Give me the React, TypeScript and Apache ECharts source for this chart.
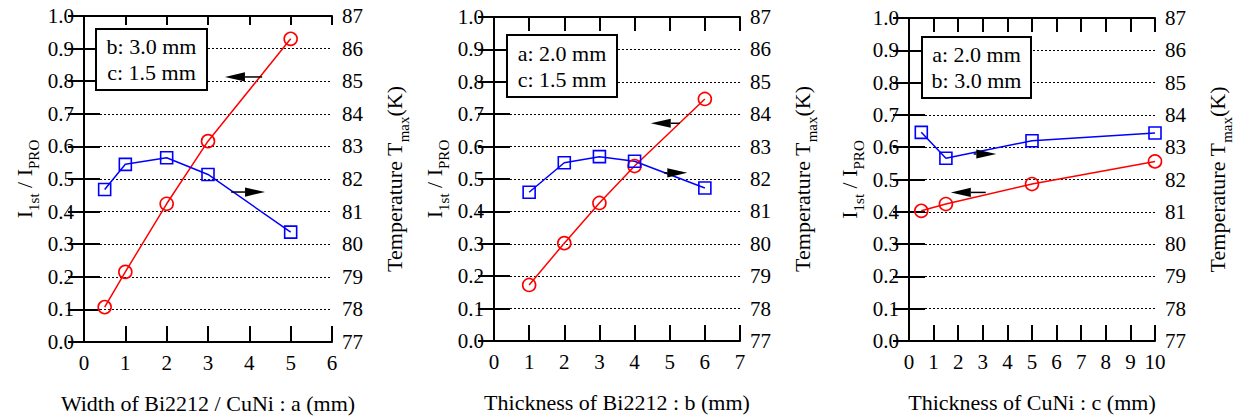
import React, { useEffect, useRef } from "react";
import * as echarts from "echarts";

// Panel 1: width a
const p1X = [0.5, 1, 2, 3, 5];
const p1I = [0.107, 0.215, 0.424, 0.616, 0.93];
const p1T = [81.68, 82.45, 82.65, 82.14, 80.37];
// Panel 2: thickness b
const p2X = [1, 2, 3, 4, 6];
const p2I = [0.173, 0.302, 0.426, 0.54, 0.747];
const p2T = [81.59, 82.5, 82.69, 82.55, 81.72];
// Panel 3: thickness c
const p3X = [0.5, 1.5, 5, 10];
const p3I = [0.403, 0.424, 0.486, 0.556];
const p3T = [83.46, 82.66, 83.2, 83.44];

const xMax = [6, 7, 10];
const yLeftTicks = { min: 0, max: 1, interval: 0.1 };
const yRightTicks = { min: 77, max: 87, interval: 1 };

const xTitles = [
  "Width of Bi2212 / CuNi : a (mm)",
  "Thickness of Bi2212 : b (mm)",
  "Thickness of CuNi : c (mm)",
];
const boxTexts = [
  "b: 3.0 mm\nc: 1.5 mm",
  "a: 2.0 mm\nc: 1.5 mm",
  "a: 2.0 mm\nb: 3.0 mm",
];
// arrows: [tailX, tailY, tipX, tipY] in left-axis units
const arrows1 = [
  [4.31, 0.813, 3.41, 0.813],
  [3.56, 0.46, 4.38, 0.46],
];
const arrows2 = [
  [5.29, 0.672, 4.46, 0.672],
  [4.84, 0.519, 5.5, 0.519],
];
const arrows3 = [
  [2.63, 0.579, 3.55, 0.579],
  [3.12, 0.46, 1.7, 0.46],
];

const FONT = "'Liberation Serif', 'Times New Roman', serif";

const grids = [
  { left: 84, top: 16, width: 248, height: 326 },
  { left: 494, top: 17, width: 246, height: 324 },
  { left: 909, top: 18, width: 247, height: 323 },
];
const topTickLen = [9, 14, 14];
const boxes = [
  { x: 96, y: 29, w: 111, h: 61 },
  { x: 507, y: 35, w: 110, h: 62 },
  { x: 922, y: 37, w: 109, h: 61 },
];

export default function App() {
  const ref = useRef<HTMLDivElement>(null);
  useEffect(() => {
    document.body.style.margin = "0";
    const chart = echarts.init(ref.current!, null, { renderer: "svg" });
    const panels = [
      { x: p1X, i: p1I, t: p1T, arrows: arrows1 },
      { x: p2X, i: p2I, t: p2T, arrows: arrows2 },
      { x: p3X, i: p3I, t: p3T, arrows: arrows3 },
    ];
    const axisLine = { show: true, lineStyle: { color: "#000", width: 2 } };
    const tickLabel = { color: "#000", fontSize: 21, fontFamily: FONT };
    const richName = {
      m: { fontSize: 22, fontFamily: FONT, color: "#000", lineHeight: 34, verticalAlign: "middle" },
      s: { fontSize: 15, fontFamily: FONT, color: "#000", lineHeight: 34, verticalAlign: "bottom" },
    };
    const xAxis: any[] = [];
    const yAxis: any[] = [];
    const series: any[] = [];
    const graphic: any[] = [];
    panels.forEach((p, g) => {
      xAxis.push({
        type: "value",
        gridIndex: g,
        min: 0,
        max: xMax[g],
        interval: 1,
        position: "bottom",
        axisLine,
        axisTick: { inside: true, length: 16, lineStyle: { color: "#000", width: 2 } },
        axisLabel: { ...tickLabel, margin: 10 },
        splitLine: { show: false },
        name: xTitles[g],
        nameLocation: "middle",
        nameGap: 50,
        nameTextStyle: { color: "#000", fontSize: 22, fontFamily: FONT },
      });
      xAxis.push({
        type: "value",
        gridIndex: g,
        min: 0,
        max: xMax[g],
        interval: 1,
        position: "top",
        axisLine,
        axisTick: { inside: true, length: topTickLen[g], lineStyle: { color: "#000", width: 2 } },
        axisLabel: { show: false },
        splitLine: { show: false },
      });
      yAxis.push({
        type: "value",
        gridIndex: g,
        ...yLeftTicks,
        position: "left",
        axisLine,
        axisTick: { inside: true, length: 16, lineStyle: { color: "#000", width: 2 } },
        axisLabel: { ...tickLabel, margin: 10, formatter: (v: number) => v.toFixed(1) },
        splitLine: { show: true, lineStyle: { color: "#000", width: 1, type: [2, 2] } },
        name: "{m|I}{s|1st}{m| / I}{s|PRO}",
        nameLocation: "middle",
        nameRotate: 90,
        nameGap: 43,
        nameTextStyle: { rich: richName },
      });
      yAxis.push({
        type: "value",
        gridIndex: g,
        ...yRightTicks,
        position: "right",
        axisLine,
        axisTick: { inside: true, length: 16, lineStyle: { color: "#000", width: 2 } },
        axisLabel: { ...tickLabel, margin: 10 },
        splitLine: { show: false },
        name: "{m|Temperature T}{s|max}{m|(K)}",
        nameLocation: "middle",
        nameRotate: 90,
        nameGap: 45,
        nameTextStyle: { rich: richName },
      });
      series.push({
        type: "line",
        xAxisIndex: g * 2,
        yAxisIndex: g * 2,
        data: p.x.map((x, k) => [x, p.i[k]]),
        symbol: "circle",
        symbolSize: 13,
        lineStyle: { color: "#ff0000", width: 1.5 },
        itemStyle: { color: "rgba(0,0,0,0)", borderColor: "#ff0000", borderWidth: 1.6 },
        z: 3,
      });
      series.push({
        type: "line",
        xAxisIndex: g * 2,
        yAxisIndex: g * 2 + 1,
        data: p.x.map((x, k) => [x, p.t[k]]),
        symbol: "rect",
        symbolSize: 12,
        lineStyle: { color: "#0000ff", width: 1.5 },
        itemStyle: { color: "rgba(0,0,0,0)", borderColor: "#0000ff", borderWidth: 1.6 },
        z: 3,
      });
      series.push({
        type: "custom",
        xAxisIndex: g * 2,
        yAxisIndex: g * 2,
        data: p.arrows,
        encode: { x: [0, 2], y: [1, 3] },
        z: 4,
        renderItem: (_params: any, api: any) => {
          const a = api.coord([api.value(0), api.value(1)]);
          const b = api.coord([api.value(2), api.value(3)]);
          const dx = b[0] - a[0];
          const dy = b[1] - a[1];
          const len = Math.hypot(dx, dy);
          const ux = dx / len;
          const uy = dy / len;
          const head = 20;
          const hw = 4.6;
          const bx = b[0] - ux * head;
          const by = b[1] - uy * head;
          return {
            type: "group",
            children: [
              {
                type: "line",
                shape: { x1: a[0], y1: a[1], x2: bx, y2: by },
                style: { stroke: "#000", lineWidth: 1.5 },
              },
              {
                type: "polygon",
                shape: {
                  points: [
                    [b[0], b[1]],
                    [bx - uy * hw, by + ux * hw],
                    [bx + uy * hw, by - ux * hw],
                  ],
                },
                style: { fill: "#000" },
              },
            ],
          };
        },
      });
      const bx = boxes[g];
      graphic.push({
        type: "rect",
        z: 100,
        shape: { x: bx.x, y: bx.y, width: bx.w, height: bx.h },
        style: { fill: "#fff", stroke: "#000", lineWidth: 2 },
      });
      graphic.push({
        type: "text",
        z: 101,
        x: bx.x + bx.w / 2,
        y: bx.y + bx.h / 2,
        style: {
          text: boxTexts[g],
          fontSize: 22,
          fontFamily: FONT,
          fill: "#000",
          align: "center",
          verticalAlign: "middle",
          lineHeight: 26,
        },
      });
    });
    chart.setOption({
      animation: false,
      grid: grids.map((gr) => ({ ...gr, containLabel: false })),
      xAxis,
      yAxis,
      series,
      graphic,
    });
    return () => chart.dispose();
  }, []);
  return <div ref={ref} style={{ width: 1235, height: 419, background: "#fff" }} />;
}
